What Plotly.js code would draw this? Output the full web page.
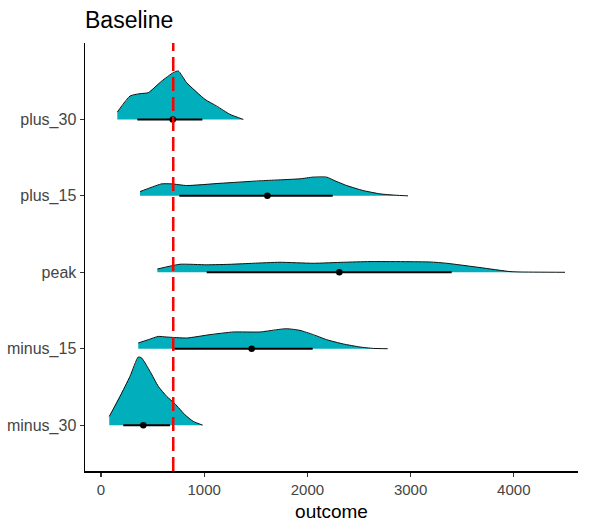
<!DOCTYPE html>
<html>
<head>
<meta charset="utf-8">
<script src="https://cdn.plot.ly/plotly-3.0.1.min.js"></script>
<style>html,body{margin:0;padding:0;background:#fff;}</style>
</head>
<body>
<div id="chart" style="width:592px;height:523px;"></div>
<script>
// Categories (bottom to top)
const categories = ['minus_30', 'minus_15', 'peak', 'plus_15', 'plus_30'];

// Density curves: x values and relative heights (fraction of row spacing)
const dens_minus_30_x = [80, 184, 281, 361, 394, 475, 555, 637, 717, 814, 894, 985];
const dens_minus_30_h = [0.114, 0.376, 0.639, 0.892, 0.879, 0.704, 0.508, 0.376, 0.279, 0.135, 0.049, 0];

const dens_minus_15_x = [361, 458, 555, 637, 830, 1056, 1282, 1541, 1703, 1799, 1928, 2057, 2187, 2348, 2510, 2638, 2778];
const dens_minus_15_h = [0.075, 0.118, 0.161, 0.153, 0.140, 0.184, 0.219, 0.219, 0.249, 0.262, 0.240, 0.184, 0.118, 0.062, 0.022, 0.004, 0];

const dens_peak_x = [546, 766, 1024, 1266, 1476, 1734, 2057, 2348, 2607, 3188, 3350, 3672, 3963, 4060, 4496];
const dens_peak_h = [0.043, 0.105, 0.098, 0.105, 0.118, 0.131, 0.118, 0.131, 0.140, 0.135, 0.118, 0.062, 0.009, 0.004, 0];

const dens_plus_15_x = [378, 475, 588, 685, 830, 1153, 1541, 1928, 2054, 2187, 2267, 2381, 2539, 2703, 2849, 2975];
const dens_plus_15_h = [0.056, 0.105, 0.157, 0.157, 0.135, 0.164, 0.197, 0.223, 0.245, 0.245, 0.197, 0.135, 0.070, 0.026, 0.009, 0];

const dens_plus_30_x = [158, 281, 378, 458, 588, 700, 749, 830, 1008, 1121, 1250, 1379];
const dens_plus_30_h = [0.096, 0.306, 0.337, 0.350, 0.502, 0.612, 0.634, 0.481, 0.262, 0.175, 0.066, 0];

// Interval summaries: lower, point (median), upper
const interval_low   = [216, 711, 1024, 759, 352];
const interval_point = [410, 1460, 2309, 1612, 695];
const interval_high  = [669, 2051, 3398, 2245, 982];

// Reference line
const baselineValue = 700;

const densX = [dens_minus_30_x, dens_minus_15_x, dens_peak_x, dens_plus_15_x, dens_plus_30_x];
const densH = [dens_minus_30_h, dens_minus_15_h, dens_peak_h, dens_plus_15_h, dens_plus_30_h];

const fillColor = '#00AFBB';
const traces = [];
categories.forEach((cat, i) => {
  const base = i + 1;
  const xs = densX[i];
  const ys = densH[i].map(h => base + h);
  // filled slab (curve, then straight back along the baseline)
  traces.push({
    type: 'scatter', mode: 'lines',
    x: xs.concat([xs[0], xs[0]]),
    y: ys.concat([base, ys[0]]),
    fill: 'toself', fillcolor: fillColor,
    line: {width: 0, color: fillColor},
    hoverinfo: 'skip', showlegend: false
  });
  // outline
  traces.push({
    type: 'scatter', mode: 'lines',
    x: xs, y: ys,
    line: {width: 1, color: '#111', shape: 'spline', smoothing: 0.5},
    hoverinfo: 'skip', showlegend: false
  });
  // interval
  traces.push({
    type: 'scatter', mode: 'lines',
    x: [interval_low[i], interval_high[i]], y: [base, base],
    line: {width: 2, color: '#000'},
    hoverinfo: 'skip', showlegend: false
  });
  traces.push({
    type: 'scatter', mode: 'markers',
    x: [interval_point[i]], y: [base],
    marker: {size: 6.5, color: '#000'},
    hoverinfo: 'skip', showlegend: false
  });
});

const layout = {
  width: 592, height: 523,
  margin: {l: 85, r: 14, t: 43, b: 52},
  paper_bgcolor: '#fff', plot_bgcolor: '#fff',
  font: {family: 'Liberation Sans, Arial, sans-serif'},
  showlegend: false,
  title: {
    text: 'Baseline',
    font: {size: 23, color: '#000'},
    xref: 'paper', x: 0, xanchor: 'left',
    yref: 'container', y: 0.962, yanchor: 'middle'
  },
  xaxis: {
    range: [-155, 4622],
    tickvals: [0, 1000, 2000, 3000, 4000],
    ticktext: ['0', '1000', '2000', '3000', '4000'],
    showgrid: false, zeroline: false,
    showline: true, linecolor: '#000', linewidth: 1.5,
    ticks: 'outside', ticklen: 4, tickcolor: '#333', tickwidth: 1.2,
    tickfont: {size: 15, color: '#454545'},
    title: {text: 'outcome', font: {size: 19, color: '#000'}, standoff: 8}
  },
  yaxis: {
    range: [0.4, 6.0],
    tickvals: categories.map((c, i) => i + 1),
    ticktext: categories,
    showgrid: false, zeroline: false,
    showline: true, linecolor: '#000', linewidth: 1.5,
    ticks: 'outside', ticklen: 4, tickcolor: '#333', tickwidth: 1.2,
    tickfont: {size: 16, color: '#454545'}
  },
  shapes: [{
    type: 'line', xref: 'x', yref: 'paper',
    x0: baselineValue, x1: baselineValue, y0: 0, y1: 1,
    line: {color: '#ff0000', width: 2.5, dash: '14px,6px'},
    layer: 'above'
  }]
};

Plotly.newPlot('chart', traces, layout, {displayModeBar: false, staticPlot: true});
</script>
</body>
</html>
